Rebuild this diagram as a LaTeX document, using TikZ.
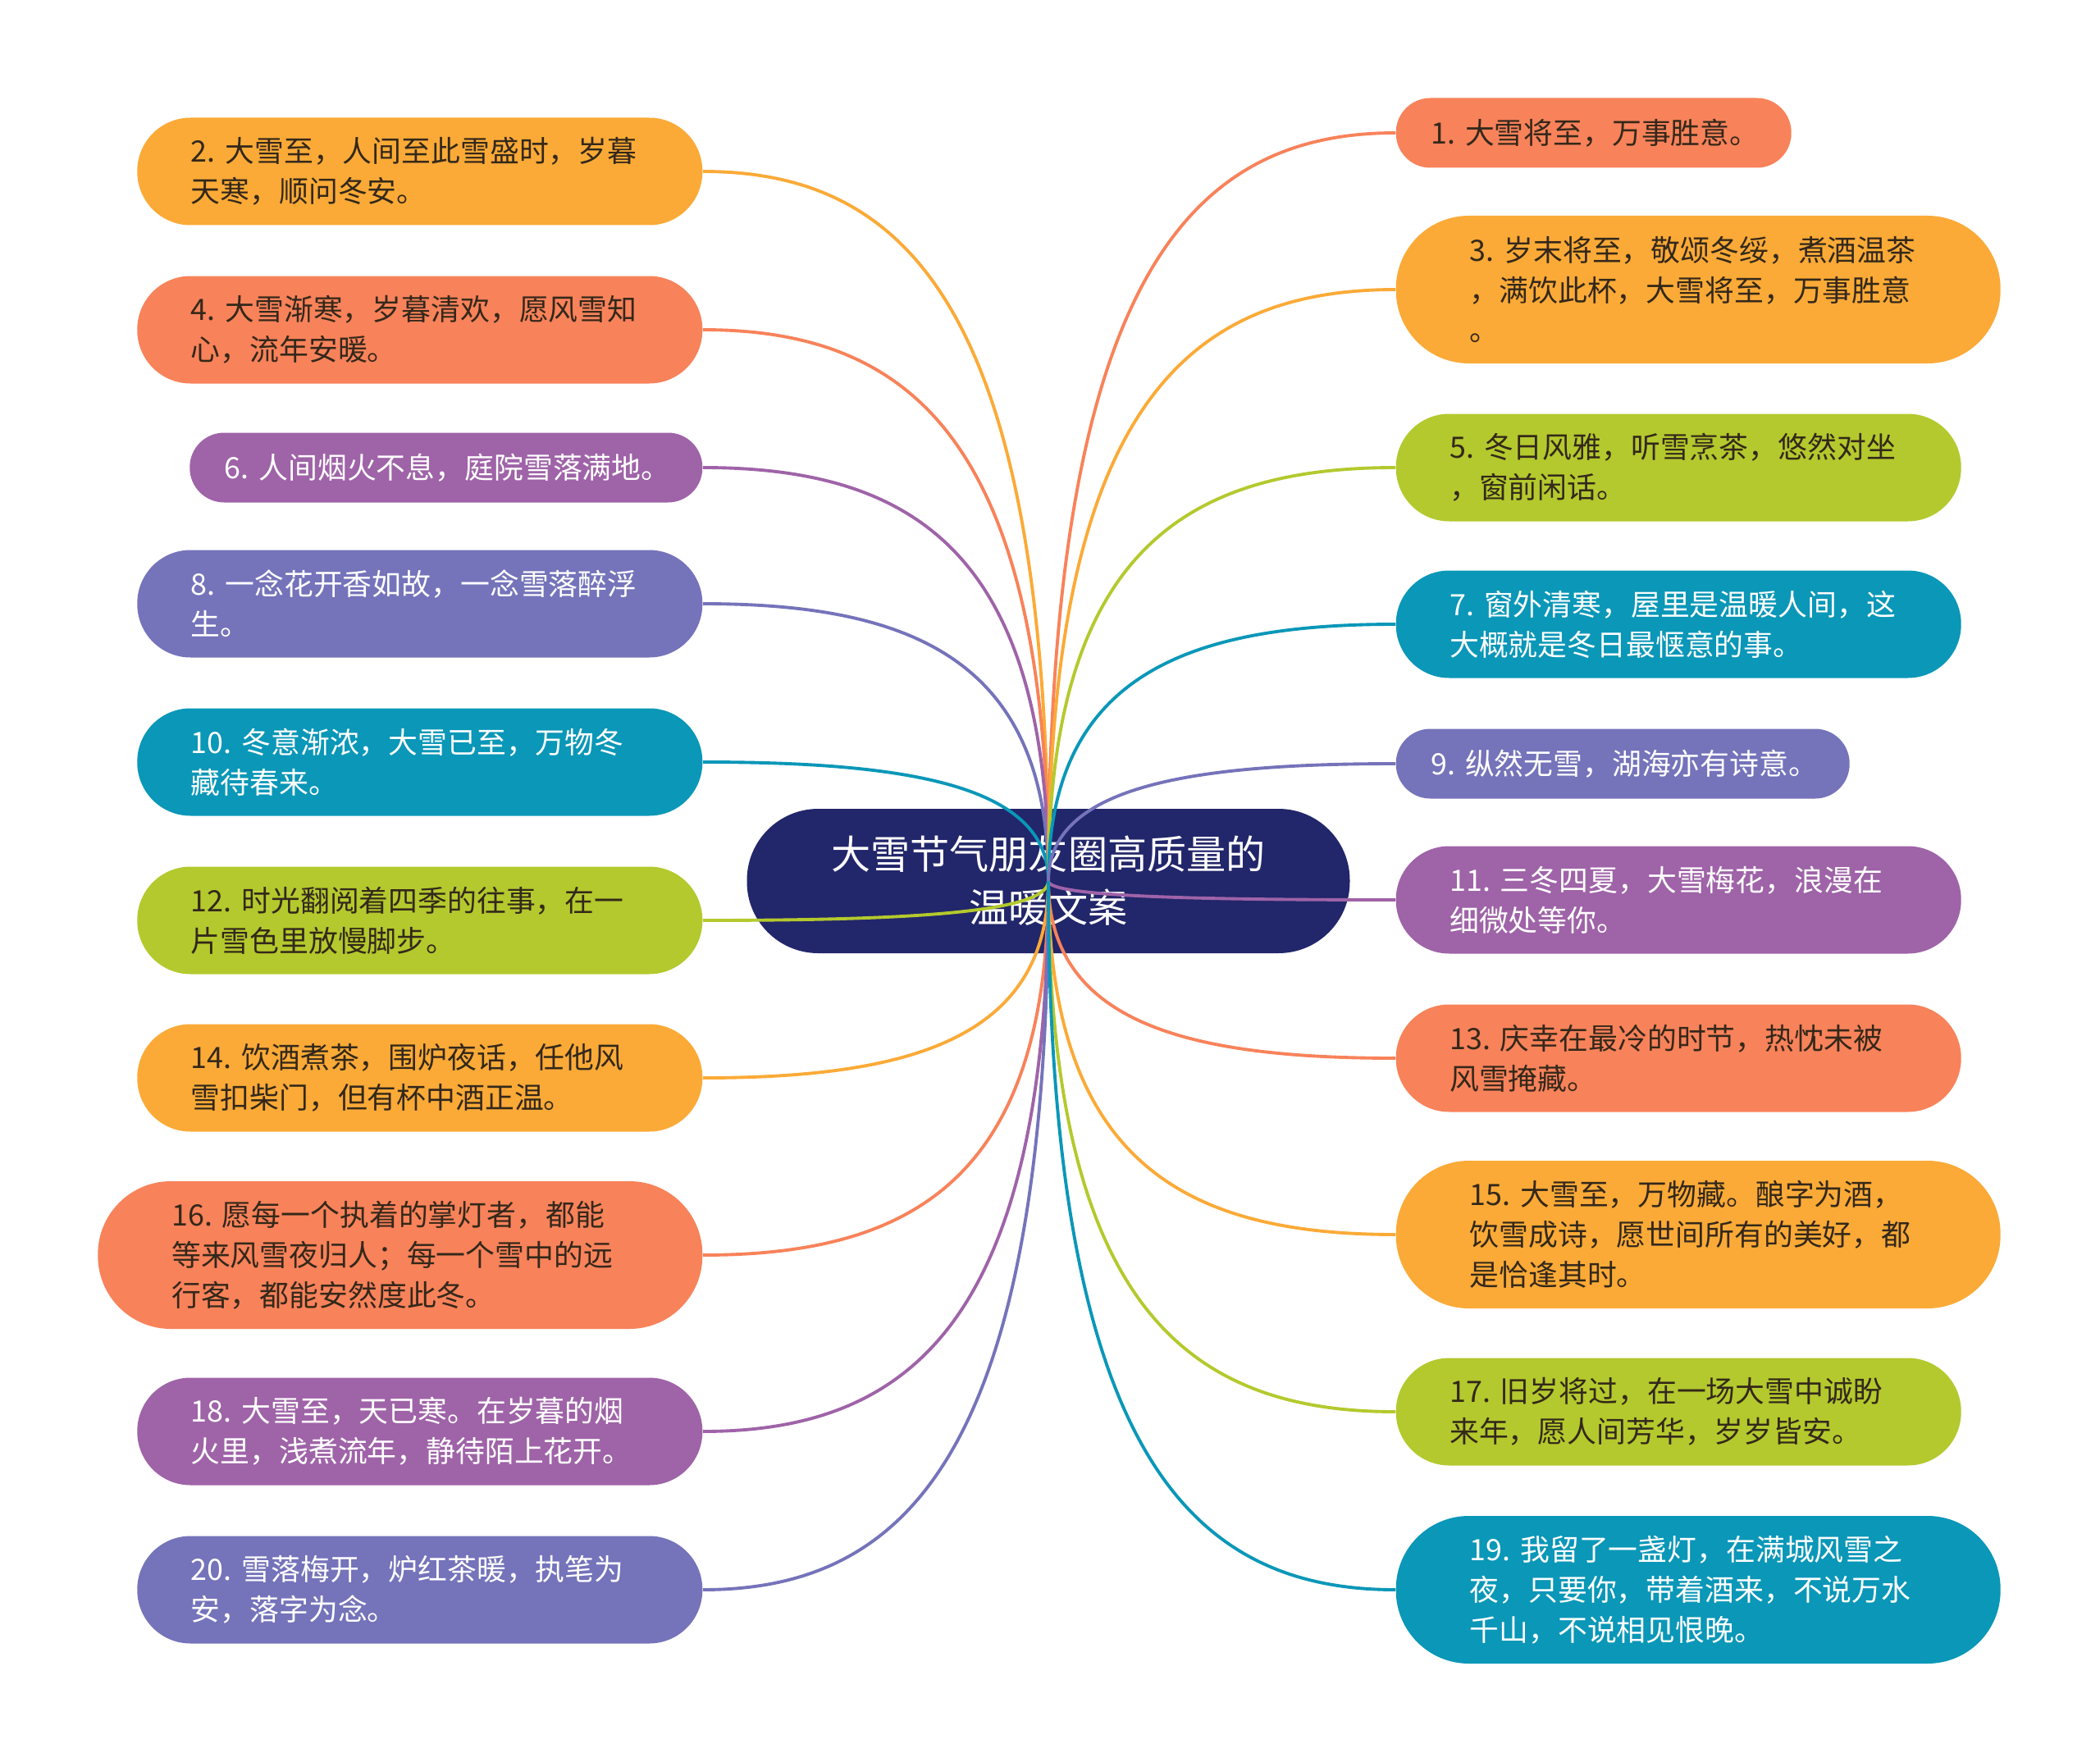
\documentclass[tikz,border=0pt]{standalone}
\usepackage{fontspec}
\setmainfont{Noto Sans CJK SC}
\usepackage{xcolor}
\usepackage{tikz}
\usetikzlibrary{calc}
\definecolor{snowYellow}{HTML}{FBAA37}
\definecolor{snowCoral}{HTML}{F8825A}
\definecolor{snowPurple}{HTML}{9F63A8}
\definecolor{snowSlate}{HTML}{7573BA}
\definecolor{snowTeal}{HTML}{0A97B8}
\definecolor{snowGreen}{HTML}{B4C92D}
\definecolor{snowNavy}{HTML}{22266A}
\definecolor{snowInk}{HTML}{33281A}
\tikzset{
  topic/.style={
    rectangle,
    inner ysep=0pt,
    align=left,
    font=\fontsize{10.2pt}{13.9pt}\selectfont
  },
  oneLine/.style={
    topic,
    minimum height=0.85cm,
    rounded corners=0.42cm,
    inner xsep=0.425cm,
    text width=#1
  },
  twoLine/.style={
    topic,
    minimum height=1.31cm,
    rounded corners=0.65cm,
    inner xsep=0.655cm,
    text width=5.58cm
  },
  threeLine/.style={
    topic,
    minimum height=1.8cm,
    rounded corners=0.89cm,
    inner xsep=0.9cm,
    text width=5.57cm
  },
  onLeft/.style={anchor=east},
  onRight/.style={anchor=west},
  fillYellow/.style={fill=snowYellow,text=snowInk},
  fillCoral/.style={fill=snowCoral,text=snowInk},
  fillGreen/.style={fill=snowGreen,text=snowInk},
  fillPurple/.style={fill=snowPurple,text=white},
  fillSlate/.style={fill=snowSlate,text=white},
  fillTeal/.style={fill=snowTeal,text=white},
  rootTopic/.style={
    rectangle,
    rounded corners=0.87cm,
    fill=snowNavy,
    text=white,
    minimum width=7.35cm,
    minimum height=1.76cm,
    align=center,
    font=\fontsize{13.7pt}{18.5pt}\selectfont
  },
  branch/.style={
    line width=1.1pt,
    draw=#1,
    to path={.. controls ($(\tikztostart)!0.8!(\tikztostart |- \tikztotarget)$)
      and ($(\tikztotarget)!0.6!(\tikztostart |- \tikztotarget)$) .. (\tikztotarget)}
  }
}

\begin{document}
\begin{tikzpicture}
  \fill[white] (0,0) rectangle (25.6,-21.48);
  \useasboundingbox (0,0) rectangle (25.6,-21.48);

  \node[rootTopic] (root) at (12.78,-10.74) {大雪节气朋友圈高质量的\\温暖文案};

  % left side
  \node[twoLine,onLeft,fillYellow] (n2) at (8.57,-2.09) {2.~大雪至，人间至此雪盛时，岁暮\\天寒，顺问冬安。};
  \node[twoLine,onLeft,fillCoral] (n4) at (8.57,-4.02) {4.~大雪渐寒，岁暮清欢，愿风雪知\\心，流年安暖。};
  \node[oneLine=5.4cm,onLeft,fillPurple] (n6) at (8.57,-5.70) {6.~人间烟火不息，庭院雪落满地。};
  \node[twoLine,onLeft,fillSlate] (n8) at (8.57,-7.36) {8.~一念花开香如故，一念雪落醉浮\\生。};
  \node[twoLine,onLeft,fillTeal] (n10) at (8.57,-9.29) {10.~冬意渐浓，大雪已至，万物冬\\藏待春来。};
  \node[twoLine,onLeft,fillGreen] (n12) at (8.57,-11.22) {12.~时光翻阅着四季的往事，在一\\片雪色里放慢脚步。};
  \node[twoLine,onLeft,fillYellow] (n14) at (8.57,-13.14) {14.~饮酒煮茶，围炉夜话，任他风\\雪扣柴门，但有杯中酒正温。};
  \node[threeLine,onLeft,fillCoral] (n16) at (8.57,-15.30) {16.~愿每一个执着的掌灯者，都能\\等来风雪夜归人；每一个雪中的远\\行客，都能安然度此冬。};
  \node[twoLine,onLeft,fillPurple] (n18) at (8.57,-17.45) {18.~大雪至，天已寒。在岁暮的烟\\火里，浅煮流年，静待陌上花开。};
  \node[twoLine,onLeft,fillSlate] (n20) at (8.57,-19.38) {20.~雪落梅开，炉红茶暖，执笔为\\安，落字为念。};

  % right side
  \node[oneLine=3.97cm,onRight,fillCoral] (n1) at (17.01,-1.62) {1.~大雪将至，万事胜意。};
  \node[threeLine,onRight,fillYellow] (n3) at (17.01,-3.53) {3.~岁末将至，敬颂冬绥，煮酒温茶\\，满饮此杯，大雪将至，万事胜意\\。};
  \node[twoLine,onRight,fillGreen] (n5) at (17.01,-5.70) {5.~冬日风雅，听雪烹茶，悠然对坐\\，窗前闲话。};
  \node[twoLine,onRight,fillTeal] (n7) at (17.01,-7.61) {7.~窗外清寒，屋里是温暖人间，这\\大概就是冬日最惬意的事。};
  \node[oneLine=4.68cm,onRight,fillSlate] (n9) at (17.01,-9.31) {9.~纵然无雪，湖海亦有诗意。};
  \node[twoLine,onRight,fillPurple] (n11) at (17.01,-10.97) {11.~三冬四夏，大雪梅花，浪漫在\\细微处等你。};
  \node[twoLine,onRight,fillCoral] (n13) at (17.01,-12.90) {13.~庆幸在最冷的时节，热忱未被\\风雪掩藏。};
  \node[threeLine,onRight,fillYellow] (n15) at (17.01,-15.05) {15.~大雪至，万物藏。酿字为酒，\\饮雪成诗，愿世间所有的美好，都\\是恰逢其时。};
  \node[twoLine,onRight,fillGreen] (n17) at (17.01,-17.21) {17.~旧岁将过，在一场大雪中诚盼\\来年，愿人间芳华，岁岁皆安。};
  \node[threeLine,onRight,fillTeal] (n19) at (17.01,-19.38) {19.~我留了一盏灯，在满城风雪之\\夜，只要你，带着酒来，不说万水\\千山，不说相见恨晚。};

  % branches
  \draw[branch=snowYellow] (root.center) to (n2.east);
  \draw[branch=snowCoral] (root.center) to (n4.east);
  \draw[branch=snowPurple] (root.center) to (n6.east);
  \draw[branch=snowSlate] (root.center) to (n8.east);
  \draw[branch=snowTeal] (root.center) to (n10.east);
  \draw[branch=snowGreen] (root.center) to (n12.east);
  \draw[branch=snowYellow] (root.center) to (n14.east);
  \draw[branch=snowCoral] (root.center) to (n16.east);
  \draw[branch=snowPurple] (root.center) to (n18.east);
  \draw[branch=snowSlate] (root.center) to (n20.east);
  \draw[branch=snowCoral] (root.center) to (n1.west);
  \draw[branch=snowYellow] (root.center) to (n3.west);
  \draw[branch=snowGreen] (root.center) to (n5.west);
  \draw[branch=snowTeal] (root.center) to (n7.west);
  \draw[branch=snowSlate] (root.center) to (n9.west);
  \draw[branch=snowPurple] (root.center) to (n11.west);
  \draw[branch=snowCoral] (root.center) to (n13.west);
  \draw[branch=snowYellow] (root.center) to (n15.west);
  \draw[branch=snowGreen] (root.center) to (n17.west);
  \draw[branch=snowTeal] (root.center) to (n19.west);
\end{tikzpicture}
\end{document}
